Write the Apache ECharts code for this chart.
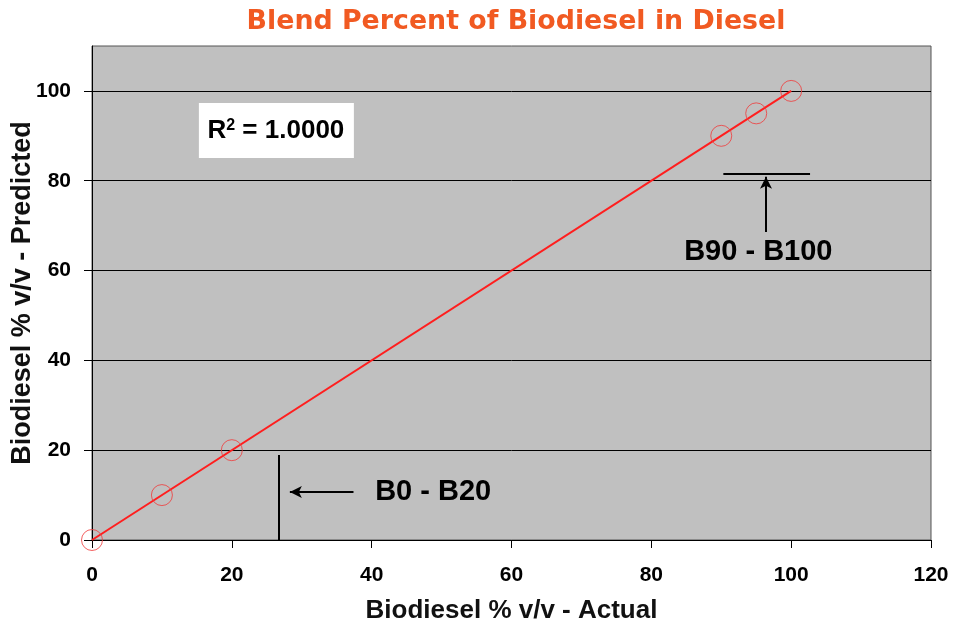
<!DOCTYPE html>
<html lang="en">
<head>
  <meta charset="UTF-8">
  <title>Blend Percent of Biodiesel in Diesel</title>
  <style>
    * { margin: 0; padding: 0; }
    body { background: #fff; }
    #chart { width: 953px; height: 623px; }
  </style>
</head>
<body>
  <div id="chart"></div>
  <script src="https://cdn.jsdelivr.net/npm/echarts@6/dist/echarts.min.js"></script>
  <script>
    // measured blends (actual vs predicted)
    const actual = [0, 10, 20, 90, 95, 100];
    const predicted = [0, 10, 20, 90, 95, 100];
    const trendX = [0, 100];
    const trendY = [0, 100];
    const xTicks = [0, 20, 40, 60, 80, 100, 120];
    const yTicks = [0, 20, 40, 60, 80, 100];

    const chart = echarts.init(document.getElementById('chart'));
    const bold = 'Liberation Sans, Arial, sans-serif';

    const option = {
      animation: false,
      title: {
        text: 'Blend Percent of Biodiesel in Diesel',
        left: 511,
        textAlign: 'center',
        top: 4,
        textStyle: {
          color: '#F15A22',
          fontSize: 26.8,
          fontWeight: 'bold',
          fontFamily: 'DejaVu Sans, Verdana, sans-serif'
        }
      },
      grid: {
        left: 92, right: 22, top: 46, bottom: 83,
        outerBoundsMode: 'none',
        show: true,
        backgroundColor: '#C0C0C0',
        borderColor: '#555',
        borderWidth: 1
      },
      xAxis: {
        type: 'value',
        min: xTicks[0], max: xTicks[xTicks.length - 1], interval: 20,
        name: 'Biodiesel % v/v - Actual',
        nameLocation: 'middle',
        nameGap: 58,
        nameMoveOverlap: false,
        nameTextStyle: { fontSize: 26, fontWeight: 'bold', color: '#111', fontFamily: bold },
        axisLine: { lineStyle: { color: '#000', width: 1 } },
        axisTick: { show: true, length: 8, lineStyle: { color: '#000' } },
        axisLabel: { fontSize: 21, fontWeight: 'bold', color: '#000', margin: 25, fontFamily: bold },
        splitLine: { show: false }
      },
      yAxis: {
        type: 'value',
        min: 0, max: 110, interval: 20,
        name: 'Biodiesel % v/v - Predicted',
        nameLocation: 'middle',
        nameGap: 56,
        nameMoveOverlap: false,
        nameTextStyle: { fontSize: 27, fontWeight: 'bold', color: '#111', fontFamily: bold },
        axisLine: { show: true, lineStyle: { color: '#000', width: 1 } },
        axisTick: { show: true, length: 8, customValues: yTicks, lineStyle: { color: '#000' } },
        axisLabel: {
          fontSize: 21, fontWeight: 'bold', color: '#000', margin: 21, fontFamily: bold,
          customValues: yTicks
        },
        splitLine: { show: true, lineStyle: { color: '#000', width: 1 } }
      },
      series: [
        {
          type: 'line',
          data: trendX.map((x, i) => [x, trendY[i]]),
          showSymbol: false,
          lineStyle: { color: '#FF1E1E', width: 2 },
          z: 3,
          markLine: {
            silent: true,
            symbol: 'none',
            label: { show: false },
            lineStyle: { color: '#000', width: 2, type: 'solid' },
            data: [
              // B0 - B20 bracket and arrow
              [{ coord: [26.7, 0] }, { coord: [26.7, 18.9] }],
              [{ coord: [37.4, 10.7], symbol: 'none' }, { coord: [28.3, 10.7], symbol: 'arrow', symbolSize: [9, 12] }],
              // B90 - B100 bracket and arrow
              [{ coord: [90.3, 81.6] }, { coord: [102.7, 81.6] }],
              [{ coord: [96.4, 68.6], symbol: 'none' }, { coord: [96.4, 80.9], symbol: 'arrow', symbolSize: [9, 12] }]
            ]
          }
        },
        {
          type: 'scatter',
          data: actual.map((x, i) => [x, predicted[i]]),
          symbol: 'circle',
          symbolSize: 21,
          itemStyle: { color: 'rgba(0,0,0,0)', borderColor: '#F03A3A', borderWidth: 1 },
          z: 4
        }
      ]
    };
    chart.setOption(option);

    // text annotations placed in data space
    const p = (x, y) => chart.convertToPixel({ gridIndex: 0 }, [x, y]);
    const r2 = p(26.3, 91.1);
    const b0 = p(40.5, 10.7);
    const b90 = p(95.3, 64.1);
    chart.setOption({
      graphic: [
        {
          type: 'rect',
          shape: { x: r2[0] - 77, y: r2[1] - 28, width: 155, height: 55 },
          style: { fill: '#fff' },
          z: 10
        },
        {
          type: 'text',
          x: r2[0], y: r2[1],
          style: {
            text: '{r|R}{s|2}{r| = 1.0000}',
            align: 'center', verticalAlign: 'middle',
            rich: {
              r: { fontSize: 26, fontWeight: 'bold', fill: '#000', fontFamily: bold, verticalAlign: 'bottom' },
              s: { fontSize: 16, fontWeight: 'bold', fill: '#000', fontFamily: bold, verticalAlign: 'top', padding: [0, 0, 10, 0] }
            }
          },
          z: 11
        },
        {
          type: 'text',
          x: b0[0], y: b0[1],
          style: { text: 'B0 - B20', fontSize: 29, fontWeight: 'bold', fill: '#000', fontFamily: bold, align: 'left', verticalAlign: 'middle' },
          z: 11
        },
        {
          type: 'text',
          x: b90[0], y: b90[1],
          style: { text: 'B90 - B100', fontSize: 29, fontWeight: 'bold', fill: '#000', fontFamily: bold, align: 'center', verticalAlign: 'middle' },
          z: 11
        }
      ]
    });
  </script>
</body>
</html>
